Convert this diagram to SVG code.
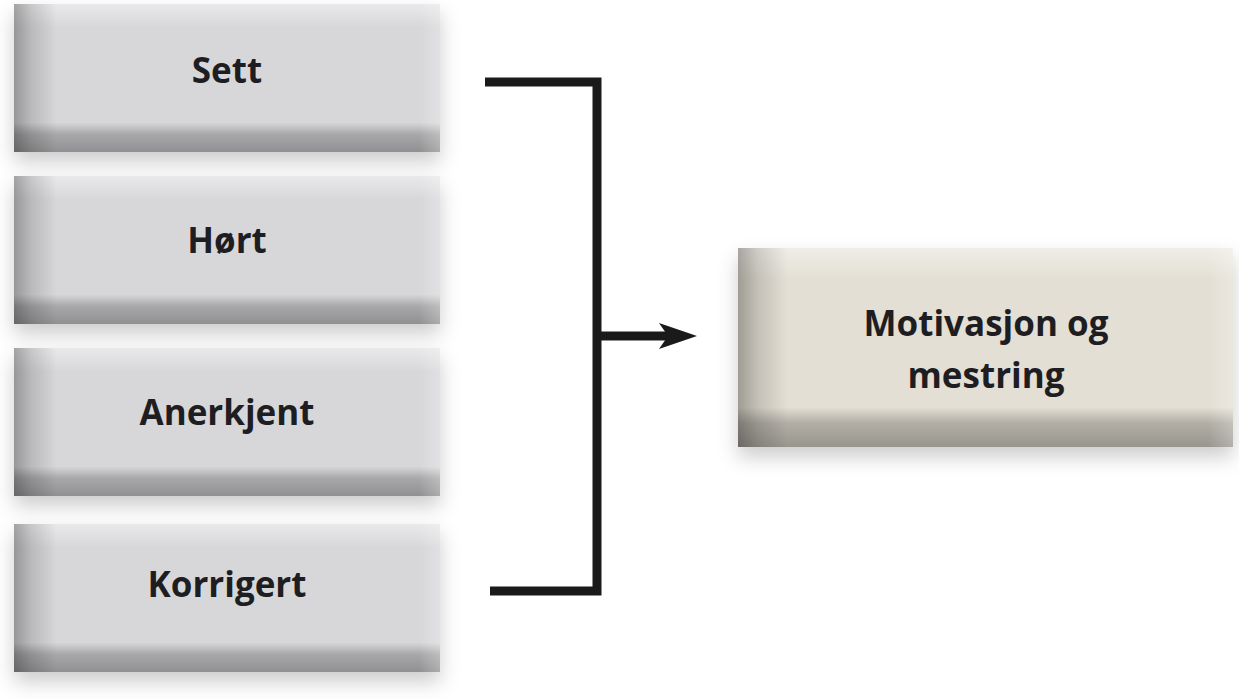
<svg xmlns="http://www.w3.org/2000/svg" width="1239" height="699" viewBox="0 0 1239 699">
<style>
.lbl{font-family:"Open Sans","Noto Sans","Liberation Sans",sans-serif;font-weight:700;font-size:35px;fill:#1e1e22;text-anchor:middle}
.gray{fill:#d7d7da}
.beige{fill:#e3dfd4}
.vb{fill:url(#vbev)}
.hb{fill:url(#hbev)}
.conn{fill:none;stroke:#1a1a1a;stroke-width:9;stroke-linejoin:miter}
</style>
<defs>
<linearGradient id="vbev" x1="0" y1="0" x2="0" y2="1">
<stop offset="0" stop-color="#fff" stop-opacity="0.45"/>
<stop offset="0.16" stop-color="#fff" stop-opacity="0"/>
<stop offset="0.8" stop-color="#000" stop-opacity="0"/>
<stop offset="0.88" stop-color="#000" stop-opacity="0.22"/>
<stop offset="1" stop-color="#000" stop-opacity="0.33"/>
</linearGradient>
<linearGradient id="hbev" x1="0" y1="0" x2="1" y2="0">
<stop offset="0" stop-color="#000" stop-opacity="0.3"/>
<stop offset="0.04" stop-color="#000" stop-opacity="0.14"/>
<stop offset="0.1" stop-color="#000" stop-opacity="0"/>
<stop offset="0.95" stop-color="#fff" stop-opacity="0"/>
<stop offset="1" stop-color="#fff" stop-opacity="0.25"/>
</linearGradient>
<filter id="sh" x="-10%" y="-20%" width="120%" height="150%">
<feGaussianBlur in="SourceAlpha" stdDeviation="10"/>
<feOffset dy="10" result="b"/>
<feFlood flood-color="#000" flood-opacity="0.2"/>
<feComposite in2="b" operator="in"/>
<feMerge><feMergeNode/><feMergeNode in="SourceGraphic"/></feMerge>
</filter>
<marker id="ah" markerUnits="userSpaceOnUse" markerWidth="40" markerHeight="30" refX="9" refY="13" orient="auto">
<path d="M0,0 L38,13 L0,26 L9,13 Z" fill="#1a1a1a"/>
</marker>
</defs>
<rect width="1239" height="699" fill="#fff"/>

<g id="node-sett">
<rect class="gray" x="14" y="4" width="426" height="148" filter="url(#sh)"/>
<rect class="vb" x="14" y="4" width="426" height="148"/>
<rect class="hb" x="14" y="4" width="426" height="148"/>
<text class="lbl" x="227" y="83">Sett</text>
</g>
<g id="node-hort">
<rect class="gray" x="14" y="176" width="426" height="148" filter="url(#sh)"/>
<rect class="vb" x="14" y="176" width="426" height="148"/>
<rect class="hb" x="14" y="176" width="426" height="148"/>
<text class="lbl" x="227" y="253">Hørt</text>
</g>
<g id="node-anerkjent">
<rect class="gray" x="14" y="348" width="426" height="148" filter="url(#sh)"/>
<rect class="vb" x="14" y="348" width="426" height="148"/>
<rect class="hb" x="14" y="348" width="426" height="148"/>
<text class="lbl" x="227" y="425">Anerkjent</text>
</g>
<g id="node-korrigert">
<rect class="gray" x="14" y="524" width="426" height="148" filter="url(#sh)"/>
<rect class="vb" x="14" y="524" width="426" height="148"/>
<rect class="hb" x="14" y="524" width="426" height="148"/>
<text class="lbl" x="227" y="597">Korrigert</text>
</g>
<g id="node-motivasjon">
<rect class="beige" x="738" y="248" width="495" height="199" filter="url(#sh)"/>
<rect class="vb" x="738" y="248" width="495" height="199"/>
<rect class="hb" x="738" y="248" width="495" height="199"/>
<text class="lbl" x="986" y="336">Motivasjon og</text>
<text class="lbl" x="986" y="388">mestring</text>
</g>

<g id="connectors">
<path class="conn" d="M485,82 H597 V591 H490"/>
<path class="conn" d="M597,336 H668" marker-end="url(#ah)"/>
</g>
</svg>
